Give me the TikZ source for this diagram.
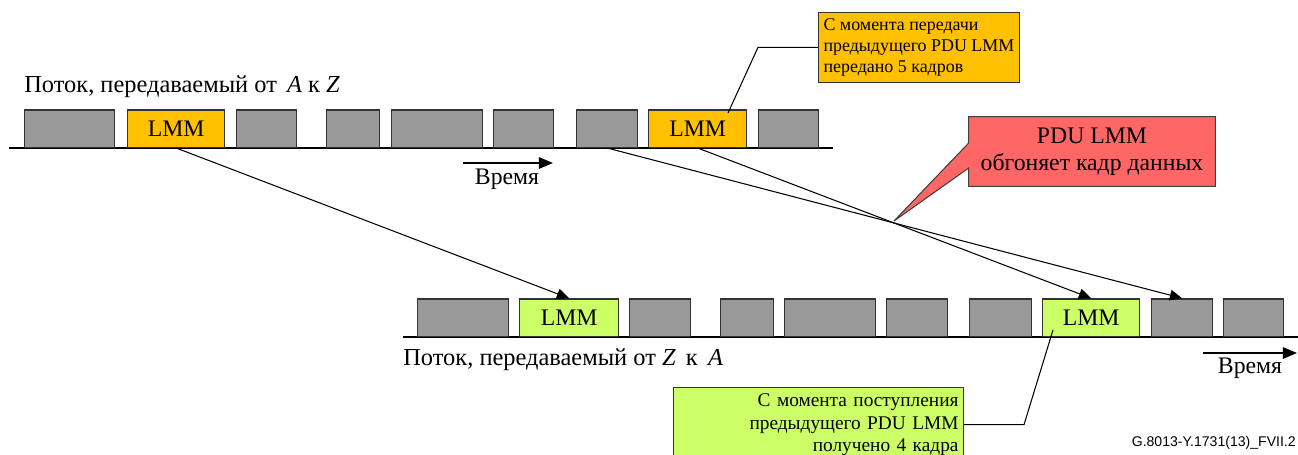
\documentclass[tikz,border=0pt]{standalone}
\usepackage{fontspec}
\setmainfont{Liberation Serif}
\newfontfamily\figfont{Liberation Sans}
\usetikzlibrary{arrows.meta, backgrounds}
\definecolor{lmmorange}{HTML}{FFC000}
\definecolor{lmmgreen}{HTML}{CCFF66}
\definecolor{lmmred}{HTML}{FF6666}

\begin{document}
\begin{tikzpicture}[
  x=0.02cm, y=-0.02cm,
  pkt/.style={draw=black!80, line width=0.7pt, fill=black!40, inner sep=0pt, minimum height=0.75cm, anchor=south west, font=\fontsize{13.5}{16}\selectfont},
  lmm sent/.style={pkt, fill=lmmorange},
  lmm got/.style={pkt, fill=lmmgreen},
  wide/.style={minimum width=#1*0.02cm},
  stream label/.style={font=\fontsize{13.9}{16}\selectfont, anchor=west, inner sep=0pt},
  time label/.style={font=\fontsize{13.5}{16}\selectfont, inner sep=0pt},
  time arrow/.style={-{Triangle[length=8pt, width=6.5pt]}, line width=0.9pt},
  conn/.style={-{Triangle[length=7pt, width=6pt]}, line width=0.6pt},
  note/.style={draw=black!80, line width=0.6pt, inner xsep=0.1cm, anchor=north west}
]
  \useasboundingbox (0,0) rectangle (1298,455);

  % stream A to Z
  \coordinate (az start) at (9,148);
  \coordinate (az end) at (833,148);
  \draw[line width=0.6pt] (az start) -- (az end);
  \node[stream label] (az label) at (24,87) {Поток, передаваемый от \,\textit{A} к \textit{Z}};
  \node[pkt, wide=90] (az1) at (24,148) {};
  \node[lmm sent, wide=97] (az lmm1) at (127,148) {LMM};
  \node[pkt, wide=60] (az2) at (236,148) {};
  \node[pkt, wide=53] (az3) at (326,148) {};
  \node[pkt, wide=91] (az4) at (391,148) {};
  \node[pkt, wide=60] (az5) at (493,148) {};
  \node[pkt, wide=61] (az6) at (576,148) {};
  \node[lmm sent, wide=98] (az lmm2) at (648,148) {LMM};
  \node[pkt, wide=60] (az7) at (758,148) {};
  \coordinate (az t0) at (463,163);
  \coordinate (az t1) at (553,163);
  \draw[time arrow] (az t0) -- (az t1);
  \node[time label] (az time) at (507,179) {Время};

  % stream Z to A
  \coordinate (za start) at (403,337);
  \coordinate (za end) at (1298,337);
  \draw[line width=0.6pt] (za start) -- (za end);
  \node[stream label] (za label) at (403,360) {Поток, передаваемый от \textit{Z} \,к \,\textit{A}};
  \node[pkt, wide=91] (za1) at (417,337) {};
  \node[lmm got, wide=99] (za lmm1) at (519,337) {LMM};
  \node[pkt, wide=61] (za2) at (629,337) {};
  \node[pkt, wide=53] (za3) at (720,337) {};
  \node[pkt, wide=91] (za4) at (784,337) {};
  \node[pkt, wide=61] (za5) at (886,337) {};
  \node[pkt, wide=62] (za6) at (969,337) {};
  \node[lmm got, wide=97] (za lmm2) at (1042,337) {LMM};
  \node[pkt, wide=61] (za7) at (1151,337) {};
  \node[pkt, wide=60] (za8) at (1223,337) {};
  \coordinate (za t0) at (1203,353);
  \coordinate (za t1) at (1297,353);
  \draw[time arrow] (za t0) -- (za t1);
  \node[time label] (za time) at (1250,368) {Время};

  % frames crossing over
  \draw[conn] (az lmm1.south) -- (za lmm1.north);
  \draw[conn] (az6.south) -- (za7.north);
  \draw[conn] (az lmm2.south) -- (za lmm2.north);

  % notes
  \node[note, fill=lmmorange, minimum width=4cm, minimum height=1.36cm, align=left,
    font=\fontsize{10.2}{12}\selectfont] (sent note) at (818,12)
    {С момента передачи\\предыдущего PDU LMM\\передано 5 кадров};
  \coordinate (sent tip) at (728,113);
  \draw[line width=0.6pt] (sent note.west) -- ++(-60,0) -- (sent tip);

  \node[note, fill=lmmgreen, text width=5.6cm, minimum height=1.46cm, align=right,
    font=\fontsize{11}{13}\selectfont] (got note) at (673,387)
    {С момента поступления\\предыдущего PDU LMM\\получено 4 кадра};
  \coordinate (got tip) at (1053,330);
  \draw[line width=0.6pt] (got note.east) -- ++(60,0) -- (got tip);

  % overtaking callout
  \coordinate (cross) at (894,221);
  \node[minimum width=4.92cm, minimum height=1.38cm, align=center,
    font=\fontsize{13.5}{15.5}\selectfont] (overtake) at (1092,151.5)
    {PDU LMM\\обгоняет кадр данных};
  \begin{pgfonlayer}{background}
    \draw[draw=black!75, line width=0.6pt, fill=lmmred, line join=miter]
      (overtake.north west) -- (overtake.north east) -- (overtake.south east)
      -- (overtake.south west) -- ([yshift=-0.33cm]overtake.west) -- (cross)
      -- ([yshift=0.17cm]overtake.west) -- cycle;
  \end{pgfonlayer}

  \node[font=\figfont\fontsize{8}{9}\selectfont, anchor=east, inner sep=0pt] (fig id) at (1296,443) {G.8013-Y.1731(13)\_FVII.2};
\end{tikzpicture}
\end{document}
